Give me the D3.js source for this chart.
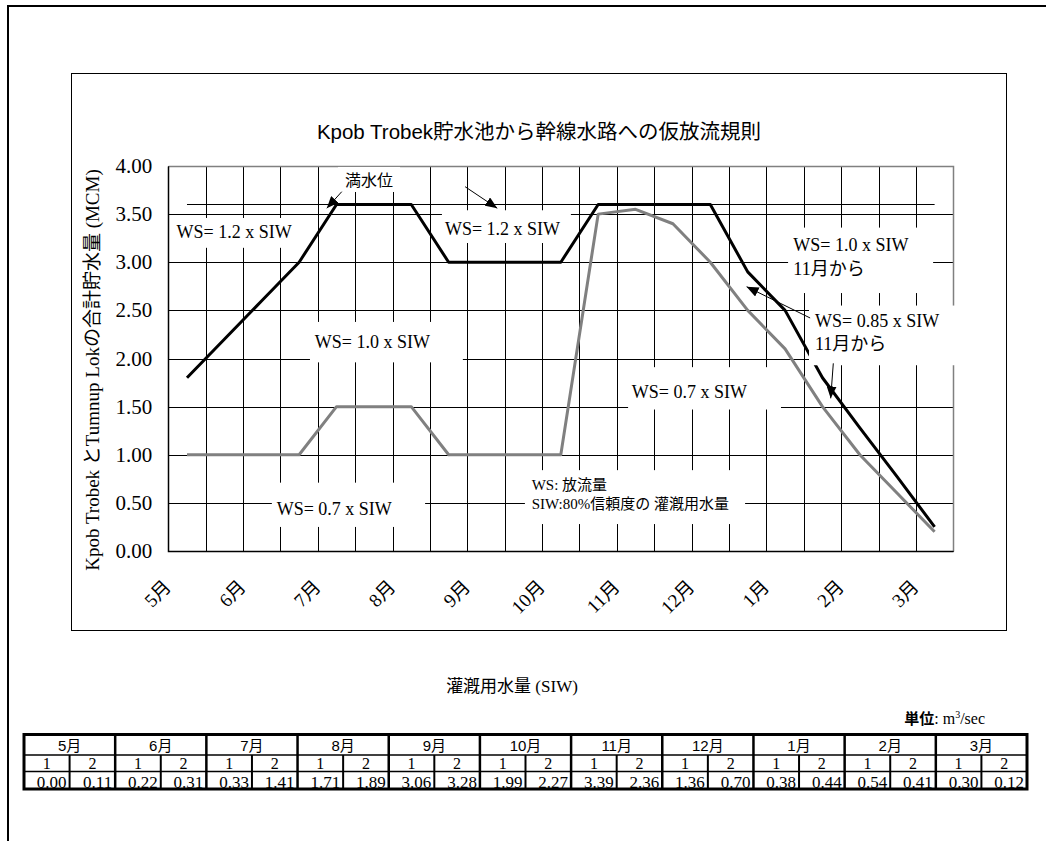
<!DOCTYPE html>
<html><head><meta charset="utf-8">
<script src="https://cdn.jsdelivr.net/npm/d3@7"></script>
<style>body{margin:0;background:#fff}svg{display:block}</style>
</head><body><svg id="c" width="1046" height="841"></svg>
<script>
// ---------------- data ----------------
const categories = ["5月1","5月2","6月1","6月2","7月1","7月2","8月1","8月2","9月1","9月2","10月1","10月2","11月1","11月2","12月1","12月2","1月1","1月2","2月1","2月2","3月1"];
const monthLabels = ["5月","6月","7月","8月","9月","10月","11月","12月","1月","2月","3月"];
const upperRule = [1.8,2.2,2.6,3.0,3.6,3.6,3.6,3.0,3.0,3.0,3.0,3.6,3.6,3.6,3.6,2.9,2.5,1.8,1.28,0.77,0.25];
const lowerRule = [1.0,1.0,1.0,1.0,1.5,1.5,1.5,1.0,1.0,1.0,1.0,3.5,3.55,3.4,3.0,2.5,2.1,1.5,1.0,0.6,0.2];
const fullLevel = [3.6,3.6,3.6,3.6,3.6,3.6,3.6,3.6,3.6,3.6,3.6,3.6,3.6,3.6,3.6,3.6,3.6,3.6,3.6,3.6,3.6];
const yTicks = [0,0.5,1.0,1.5,2.0,2.5,3.0,3.5,4.0];
const tableMonths = ["5月","6月","7月","8月","9月","10月","11月","12月","1月","2月","3月"];
const tableHalves = ["1","2"];
const siwValues = ["0.00","0.11","0.22","0.31","0.33","1.41","1.71","1.89","3.06","3.28","1.99","2.27","3.39","2.36","1.36","0.70","0.38","0.44","0.54","0.41","0.30","0.12"];

const chartTitle = "Kpob Trobek貯水池から幹線水路への仮放流規則";
const yTitle = "Kpob Trobek とTumnup Lokの合計貯水量  (MCM)";
const tableTitle = "灌漑用水量 (SIW)";

// annotations (positions in category units / data values)
const notes = [
  {lines:["満水位"], u:4.73, v:3.79, box:[4.54,6.20,3.99,3.73], cls:"jp", size:16},
  {lines:["WS= 1.2 x SIW"], u:0.22, v:3.252, box:[0.05,3.52,3.46,3.15], cls:"ser", size:18},
  {lines:["WS= 1.2 x SIW"], u:7.40, v:3.283, box:[7.32,10.77,3.54,3.20], cls:"ser", size:18},
  {lines:["WS= 1.0 x SIW"], u:3.92, v:2.109, box:[3.79,7.88,2.38,1.96], cls:"ser", size:18},
  {lines:["WS= 0.7 x SIW"], u:2.90, v:0.374, box:[2.77,6.87,0.71,0.25], cls:"ser", size:18},
  {lines:["WS: 放流量","SIW:80%信頼度の 灌漑用水量"], u:9.72, v:0.634, dy:19, box:[9.54,15.43,0.84,0.28], cls:"ser", size:15},
  {lines:["WS= 0.7 x SIW"], u:12.40, v:1.590, box:[12.30,16.39,1.91,1.47], cls:"ser", size:18},
  {lines:["WS= 1.0 x SIW","11月から"], u:16.72, v:3.112, dy:23.5, box:[16.58,20.46,3.36,2.68], cls:"ser", size:18},
  {lines:["WS= 0.85 x SIW","11月から"], u:17.30, v:2.332, dy:23.5, box:[17.14,21.24,2.55,1.93], cls:"ser", size:18}
];
const arrows = [
  {from:[4.64,3.733], to:[4.24,3.561]},
  {from:[7.94,3.785], to:[8.80,3.561]},
  {from:[17.17,2.421], to:[15.47,2.746]},
  {from:[17.79,1.950], to:[17.72,1.586]}
];

// ---------------- drawing ----------------
const svg = d3.select("#c");
const SER = "'Liberation Serif','Times New Roman','Noto Sans CJK JP',serif";
const SANS = "'Liberation Sans',Arial,'Noto Sans CJK JP',sans-serif";
const JP = "'Noto Sans CJK JP',sans-serif";
const fam = {ser:SER, jp:JP, sans:SANS};
const px = v => Math.round(v) + 0.5;

svg.append("rect").attr("width",1046).attr("height",841).attr("fill","#fff");

// outer frame
svg.append("path").attr("d","M8,841 L8,6 L1046,6").attr("fill","none").attr("stroke","#000").attr("stroke-width",2);
// chart frame
svg.append("rect").attr("x",71.5).attr("y",73.5).attr("width",935).attr("height",557)
  .attr("fill","#fff").attr("stroke","#000").attr("stroke-width",1);

const x = d3.scaleBand().domain(categories).range([168.3,953.3]).paddingInner(0).paddingOuter(0);
const cx = c => x(c) + x.bandwidth()/2;
const xu = u => x.range()[0] + u * x.step();
const y = d3.scaleLinear().domain([0,4]).range([551,166]);

// title
svg.append("text").attr("x",539).attr("y",139).attr("text-anchor","middle")
  .attr("font-family",SANS).attr("font-size",20.5).text(chartTitle);

const g = svg.append("g");
// gridlines
g.selectAll("line.hg").data(yTicks).join("line").attr("class","hg")
  .attr("x1",px(x.range()[0])).attr("x2",px(x.range()[1]))
  .attr("y1",d=>px(y(d))).attr("y2",d=>px(y(d)))
  .attr("stroke","#000").attr("stroke-width",1);
g.selectAll("line.vg").data(d3.range(categories.length+1)).join("line").attr("class","vg")
  .attr("x1",d=>px(xu(d))).attr("x2",d=>px(xu(d)))
  .attr("y1",px(y(4))).attr("y2",px(y(0)))
  .attr("stroke","#000").attr("stroke-width",1);
// plot border top/right gray
g.append("path").attr("d",`M${px(xu(0))},${px(y(4))} L${px(xu(categories.length))},${px(y(4))} L${px(xu(categories.length))},${px(y(0))}`)
  .attr("fill","none").attr("stroke","#808080").attr("stroke-width",1.5);
// axes
g.append("path").attr("d",`M${px(xu(0))},${px(y(4))} L${px(xu(0))},${px(y(0))} L${px(xu(categories.length))},${px(y(0))}`)
  .attr("fill","none").attr("stroke","#000").attr("stroke-width",1.5);

// y tick labels
g.selectAll("text.yt").data(yTicks).join("text").attr("class","yt")
  .attr("x",x.range()[0]-16).attr("y",d=>y(d)+7).attr("text-anchor","end")
  .attr("font-family",SER).attr("font-size",21).text(d=>d.toFixed(2));
// y title
svg.append("text").attr("transform","translate(99,370) rotate(-90)").attr("text-anchor","middle")
  .attr("font-family",SER).attr("font-size",19).text(yTitle);
// x month labels (end of text anchored near the month boundary)
g.selectAll("text.xt").data(monthLabels).join("text").attr("class","xt")
  .attr("transform",(d,i)=>`translate(${xu(i*2)+4},${y(0)+37}) rotate(-45)`)
  .attr("text-anchor","end")
  .attr("font-family",SER).attr("font-size",19).text(d=>d);

// series
const line = d3.line().x((d,i)=>cx(categories[i])).y(d=>y(d));
g.append("path").datum(fullLevel).attr("d",line).attr("fill","none").attr("stroke","#000").attr("stroke-width",1.2);
g.append("path").datum(lowerRule).attr("d",line).attr("fill","none").attr("stroke","#808080").attr("stroke-width",3).attr("stroke-linejoin","round");
g.append("path").datum(upperRule).attr("d",line).attr("fill","none").attr("stroke","#000").attr("stroke-width",3).attr("stroke-linejoin","round");

// annotations
notes.forEach(n=>{
  const b = n.box;
  g.append("rect").attr("x",xu(b[0])).attr("y",y(b[2])).attr("width",xu(b[1])-xu(b[0])).attr("height",y(b[3])-y(b[2])).attr("fill","#fff");
  const t = g.append("text").attr("x",xu(n.u)).attr("y",y(n.v)).attr("font-family",fam[n.cls]).attr("font-size",n.size);
  n.lines.forEach((l,i)=>t.append("tspan").attr("x",xu(n.u)).attr("dy",i?n.dy:0).text(l));
});

// arrows
const defs = svg.append("defs");
defs.append("marker").attr("id","ah").attr("markerUnits","userSpaceOnUse").attr("viewBox","0 0 12 10")
  .attr("refX",12).attr("refY",5).attr("markerWidth",12).attr("markerHeight",10).attr("orient","auto")
  .append("path").attr("d","M0,0 L12,5 L0,10 Z").attr("fill","#000");
g.selectAll("line.ar").data(arrows).join("line").attr("class","ar")
  .attr("x1",d=>xu(d.from[0])).attr("y1",d=>y(d.from[1]))
  .attr("x2",d=>xu(d.to[0])).attr("y2",d=>y(d.to[1]))
  .attr("stroke","#000").attr("stroke-width",1).attr("marker-end","url(#ah)");

// ---------------- table ----------------
svg.append("text").attr("x",512).attr("y",692).attr("text-anchor","middle")
  .attr("font-family",SER).attr("font-size",17).text(tableTitle);
const unit = svg.append("text").attr("x",985).attr("y",724).attr("text-anchor","end").attr("font-family",SER).attr("font-size",16);
unit.append("tspan").attr("font-family",JP).attr("font-weight","bold").attr("font-size",15).text("単位");
unit.append("tspan").text(": m");
unit.append("tspan").attr("font-size",10).attr("dy",-6).text("3");
unit.append("tspan").attr("dy",6).text("/sec");

const tx = d3.scaleBand().domain(d3.range(siwValues.length)).range([24,1027]);
const rTop = 734.5, r1 = 755, r2 = 771.5, rBot = 789;
const tg = svg.append("g");
tg.append("rect").attr("x",24).attr("y",rTop).attr("width",1003).attr("height",rBot-rTop).attr("fill","#fff");
[r1,r2].forEach(r=>tg.append("line").attr("x1",24).attr("x2",1027).attr("y1",r).attr("y2",r).attr("stroke","#000").attr("stroke-width",1.5));
d3.range(1,siwValues.length).forEach(i=>{
  const isMonth = i%2===0;
  tg.append("line").attr("x1",tx(i)).attr("x2",tx(i)).attr("y1",isMonth?rTop:r1).attr("y2",rBot)
    .attr("stroke","#000").attr("stroke-width",isMonth?2.5:2);
});
tg.append("rect").attr("x",24).attr("y",rTop).attr("width",1003).attr("height",rBot-rTop)
  .attr("fill","none").attr("stroke","#000").attr("stroke-width",3);
tg.selectAll("text.m").data(tableMonths).join("text").attr("class","m")
  .attr("x",(d,i)=>tx(i*2)+tx.step()).attr("y",751).attr("text-anchor","middle")
  .attr("font-family",SANS).attr("font-size",15).text(d=>d);
tg.selectAll("text.h").data(siwValues).join("text").attr("class","h")
  .attr("x",(d,i)=>tx(i)+tx.step()/2).attr("y",769).attr("text-anchor","middle")
  .attr("font-family",SER).attr("font-size",16).text((d,i)=>tableHalves[i%2]);
tg.selectAll("text.v").data(siwValues).join("text").attr("class","v")
  .attr("x",(d,i)=>tx(i)+tx.step()-3).attr("y",787.7).attr("text-anchor","end")
  .attr("font-family",SER).attr("font-size",17).text(d=>d);
</script></body></html>
